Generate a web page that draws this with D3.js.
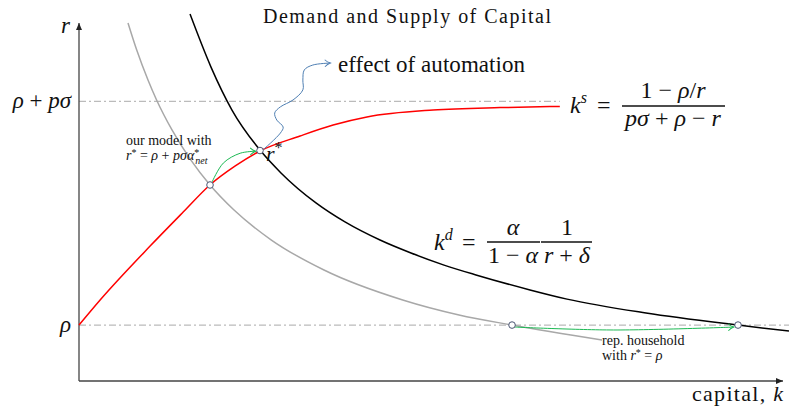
<!DOCTYPE html>
<html>
<head>
<meta charset="utf-8">
<script src="https://cdn.jsdelivr.net/npm/d3@7"></script>
<style>
body { margin: 0; background: #fff; }
text { font-family: "Liberation Serif", "Times New Roman", serif; fill: #111; }
.it { font-style: italic; }
</style>
</head>
<body>
<svg id="chart"></svg>
<script>
const WIDTH = 789;
const HEIGHT = 409;

// r levels (rho = 1, rho + p*sigma = 2)
const yTickValues = [1, 2];
const yTickLabels = ['<tspan class="it">ρ</tspan>', '<tspan class="it">ρ</tspan> + <tspan class="it">pσ</tspan>'];

// supply of capital k^s, points (k, r)
const supplyCurve = [[0, 1.0], [0.30, 1.112], [1.01, 1.353], [1.48, 1.505], [1.86, 1.626], [2.22, 1.711],
    [2.57, 1.778], [3.14, 1.845], [3.61, 1.894], [4.09, 1.930], [5.03, 1.961], [5.98, 1.972], [6.83, 1.977]];

// demand of capital k^d after automation (black)
const demandCurve = [[1.577, 2.390], [1.875, 2.153], [2.173, 1.961], [2.571, 1.782], [2.869, 1.680], [3.366, 1.546],
    [3.778, 1.461], [4.276, 1.380], [4.716, 1.322], [5.185, 1.268], [5.639, 1.224], [6.406, 1.157], [6.932, 1.116],
    [8.054, 1.054], [9.361, 1.0], [10.085, 0.973]];

// demand of capital before automation (grey)
const demandBefore = [[0.696, 2.350], [0.820, 2.229], [0.980, 2.095], [1.102, 2.006], [1.321, 1.872], [1.587, 1.738],
    [1.861, 1.626], [2.202, 1.514], [2.733, 1.380], [3.480, 1.246], [4.598, 1.112], [5.398, 1.045], [6.151, 1.0],
    [7.429, 0.933]];

// equilibrium points
const equilibria = [[1.861, 1.626], [2.571, 1.780], [6.151, 1.0], [9.361, 1.0]];

// annotation arrows
const automationArrow = [[2.61, 1.782], [2.86, 1.858], [2.90, 1.885], [2.81, 1.916], [2.78, 1.948], [2.86, 1.975],
    [3.04, 2.006], [3.18, 2.051], [3.18, 2.095], [3.20, 2.140], [3.32, 2.162], [3.57, 2.171]];
const modelArrow = [[1.89, 1.639], [2.05, 1.724], [2.29, 1.768], [2.51, 1.777]];
const householdArrow = [[6.19, 0.991], [7.59, 0.978], [9.30, 0.991]];

window.onload = function(){
    makeChart();
};

function makeChart(){
    let svg = d3.select('#chart')
        .attr('width', WIDTH)
        .attr('height', HEIGHT);

    const x = d3.scaleLinear().domain([0, 10]).range([79, 783]);
    const y = d3.scaleLinear().domain([0.75, 2.35]).range([381, 23]);

    const curve = d3.line()
        .x(d => x(d[0]))
        .y(d => y(d[1]))
        .curve(d3.curveMonotoneX);
    const wavy = d3.line()
        .x(d => x(d[0]))
        .y(d => y(d[1]))
        .curve(d3.curveCatmullRom.alpha(0.5));

    let defs = svg.append('defs');
    defs.append('marker')
        .attr('id', 'axisHead')
        .attr('markerUnits', 'userSpaceOnUse')
        .attr('markerWidth', 8).attr('markerHeight', 8)
        .attr('refX', 7).attr('refY', 3)
        .attr('orient', 'auto')
        .append('path')
        .attr('d', 'M0,0 L7,3 L0,6 Z')
        .attr('fill', '#222');

    [['blueHead', '#4f7fb3'], ['greenHead', '#1db954']].forEach(m => {
        defs.append('marker')
            .attr('id', m[0])
            .attr('markerUnits', 'userSpaceOnUse')
            .attr('markerWidth', 10).attr('markerHeight', 10)
            .attr('refX', 6).attr('refY', 4)
            .attr('orient', 'auto')
            .append('path')
            .attr('d', 'M0.5,0.5 Q3,3 6,4 Q3,5 0.5,7.5')
            .attr('fill', 'none')
            .attr('stroke', m[1])
            .attr('stroke-width', 1);
    });

    // dash-dot guide lines
    svg.append('line')
        .attr('x1', x(0)).attr('x2', x(6.83))
        .attr('y1', y(2)).attr('y2', y(2))
        .attr('stroke', '#bbb').attr('stroke-width', 1.3)
        .attr('stroke-dasharray', '7,3,2,3');
    svg.append('line')
        .attr('x1', x(0)).attr('x2', WIDTH)
        .attr('y1', y(1)).attr('y2', y(1))
        .attr('stroke', '#bbb').attr('stroke-width', 1.3)
        .attr('stroke-dasharray', '7,3,2,3');

    // axes
    svg.append('line')
        .attr('x1', x(0)).attr('y1', y(0.75))
        .attr('x2', x(0)).attr('y2', y(2.35))
        .attr('stroke', '#444').attr('stroke-width', 1.3)
        .attr('marker-end', 'url(#axisHead)');
    svg.append('line')
        .attr('x1', x(0)).attr('y1', y(0.75))
        .attr('x2', x(10)).attr('y2', y(0.75))
        .attr('stroke', '#444').attr('stroke-width', 1.3)
        .attr('marker-end', 'url(#axisHead)');

    // curves
    svg.append('path').datum(demandBefore)
        .attr('d', curve).attr('fill', 'none')
        .attr('stroke', '#a8a8a8').attr('stroke-width', 1.5);
    svg.append('path').datum(demandCurve)
        .attr('d', curve).attr('fill', 'none')
        .attr('stroke', '#000').attr('stroke-width', 1.5);
    svg.append('path').datum(supplyCurve)
        .attr('d', curve).attr('fill', 'none')
        .attr('stroke', '#ff0000').attr('stroke-width', 1.5);

    // annotation arrows
    svg.append('path').datum(automationArrow)
        .attr('d', wavy).attr('fill', 'none')
        .attr('stroke', '#4f7fb3').attr('stroke-width', 1)
        .attr('marker-end', 'url(#blueHead)');
    svg.append('path').datum(modelArrow)
        .attr('d', wavy).attr('fill', 'none')
        .attr('stroke', '#1db954').attr('stroke-width', 1)
        .attr('marker-end', 'url(#greenHead)');
    svg.append('path').datum(householdArrow)
        .attr('d', wavy).attr('fill', 'none')
        .attr('stroke', '#1db954').attr('stroke-width', 1)
        .attr('marker-end', 'url(#greenHead)');

    svg.selectAll('circle.eq')
        .data(equilibria)
        .enter()
        .append('circle')
        .attr('class', 'eq')
        .attr('cx', d => x(d[0]))
        .attr('cy', d => y(d[1]))
        .attr('r', 3.3)
        .attr('fill', '#fff')
        .attr('stroke', '#4a5573')
        .attr('stroke-width', 1);

    // y tick labels
    svg.selectAll('text.ytick')
        .data(yTickValues)
        .enter()
        .append('text')
        .attr('class', 'ytick')
        .attr('x', x(0) - 8)
        .attr('y', d => y(d) + 7)
        .attr('text-anchor', 'end')
        .style('font-size', '23px')
        .html((d, i) => yTickLabels[i]);

    // texts
    svg.append('text')
        .attr('x', 407).attr('y', 23)
        .attr('text-anchor', 'middle')
        .attr('textLength', 288).attr('lengthAdjust', 'spacing')
        .style('font-size', '20px')
        .text('Demand and Supply of Capital');

    svg.append('text')
        .attr('x', 61).attr('y', 33)
        .attr('class', 'it')
        .style('font-size', '23px')
        .text('r');

    svg.append('text')
        .attr('x', 338).attr('y', 72)
        .attr('textLength', 187).attr('lengthAdjust', 'spacing')
        .style('font-size', '23px')
        .text('effect of automation');

    svg.append('text')
        .attr('x', 266).attr('y', 161)
        .style('font-size', '22px')
        .html('<tspan class="it">r</tspan><tspan font-size="16" dy="-8">*</tspan>');

    svg.append('text')
        .attr('x', 126).attr('y', 145)
        .style('font-size', '14px')
        .text('our model with');
    svg.append('text')
        .attr('x', 126).attr('y', 160)
        .style('font-size', '14px')
        .html('<tspan class="it">r</tspan><tspan font-size="10" dy="-4">*</tspan><tspan dy="4"> = </tspan><tspan class="it">ρ</tspan> + <tspan class="it">pσα</tspan><tspan font-size="10" dy="-4">*</tspan><tspan class="it" font-size="10" dx="-4" dy="8">net</tspan>');

    svg.append('text')
        .attr('x', 602).attr('y', 345)
        .style('font-size', '14px')
        .text('rep. household');
    svg.append('text')
        .attr('x', 602).attr('y', 360)
        .style('font-size', '14px')
        .html('with <tspan class="it">r</tspan><tspan font-size="10" dy="-4">*</tspan><tspan dy="4"> = </tspan><tspan class="it">ρ</tspan>');

    svg.append('text')
        .attr('x', 692).attr('y', 401)
        .attr('textLength', 91).attr('lengthAdjust', 'spacing')
        .style('font-size', '22px')
        .html('capital, <tspan class="it">k</tspan>');

    // k^s equation
    svg.append('text')
        .attr('x', 570).attr('y', 113)
        .style('font-size', '24px')
        .html('<tspan class="it">k</tspan><tspan class="it" font-size="16" dy="-10">s</tspan>');
    svg.append('text')
        .attr('x', 597).attr('y', 113)
        .style('font-size', '24px')
        .text('=');
    svg.append('line')
        .attr('x1', 622).attr('x2', 725).attr('y1', 106).attr('y2', 106)
        .attr('stroke', '#111').attr('stroke-width', 1.3);
    svg.append('text')
        .attr('x', 673).attr('y', 98)
        .attr('text-anchor', 'middle')
        .style('font-size', '24px')
        .html('1 − <tspan class="it">ρ</tspan>/<tspan class="it">r</tspan>');
    svg.append('text')
        .attr('x', 673).attr('y', 126)
        .attr('text-anchor', 'middle')
        .style('font-size', '24px')
        .html('<tspan class="it">pσ</tspan> + <tspan class="it">ρ</tspan> − <tspan class="it">r</tspan>');

    // k^d equation
    svg.append('text')
        .attr('x', 434).attr('y', 250)
        .style('font-size', '24px')
        .html('<tspan class="it">k</tspan><tspan class="it" font-size="16" dy="-10">d</tspan>');
    svg.append('text')
        .attr('x', 462).attr('y', 250)
        .style('font-size', '24px')
        .text('=');
    svg.append('line')
        .attr('x1', 487).attr('x2', 540).attr('y1', 242).attr('y2', 242)
        .attr('stroke', '#111').attr('stroke-width', 1.3);
    svg.append('line')
        .attr('x1', 541).attr('x2', 592).attr('y1', 242).attr('y2', 242)
        .attr('stroke', '#111').attr('stroke-width', 1.3);
    svg.append('text')
        .attr('x', 513).attr('y', 235)
        .attr('text-anchor', 'middle')
        .style('font-size', '24px')
        .html('<tspan class="it">α</tspan>');
    svg.append('text')
        .attr('x', 513).attr('y', 263)
        .attr('text-anchor', 'middle')
        .style('font-size', '24px')
        .html('1 − <tspan class="it">α</tspan>');
    svg.append('text')
        .attr('x', 567).attr('y', 235)
        .attr('text-anchor', 'middle')
        .style('font-size', '24px')
        .text('1');
    svg.append('text')
        .attr('x', 567).attr('y', 263)
        .attr('text-anchor', 'middle')
        .style('font-size', '24px')
        .html('<tspan class="it">r</tspan> + <tspan class="it">δ</tspan>');
}
</script>
</body>
</html>
